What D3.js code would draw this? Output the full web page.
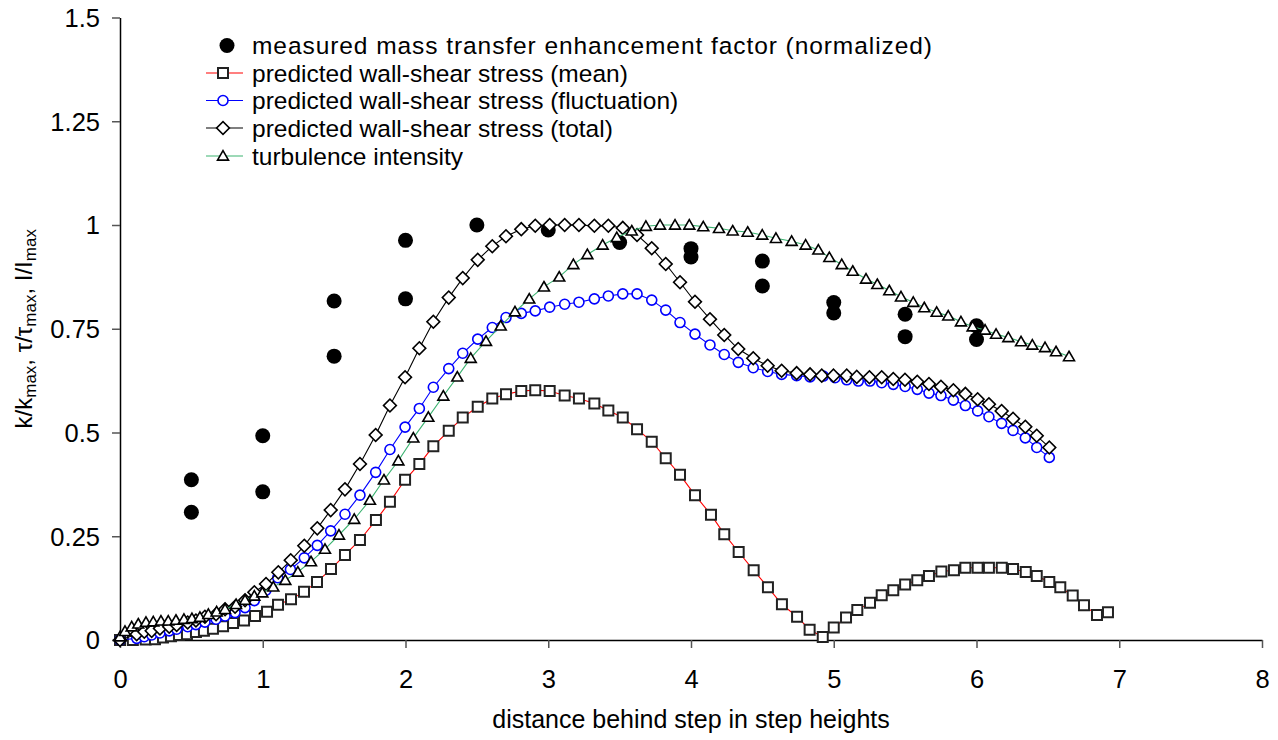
<!DOCTYPE html>
<html>
<head>
<meta charset="utf-8">
<script src="https://cdn.jsdelivr.net/npm/d3@7"></script>
<style>
  body { margin: 0; background: #fff; }
  svg { font-family: "Liberation Sans", Arial, sans-serif; }
</style>
</head>
<body>
<script>
// data, [x, y]
var measured = [[0.5,0.386],[0.5,0.308],[1,0.492],[1,0.357],[1.5,0.817],[1.5,0.684],[2,0.963],[2,0.822],
  [2.5,1.0],[3,0.988],[3.5,0.958],[4,0.943],[4,0.923],[4.5,0.913],[4.5,0.853],[5,0.813],[5,0.788],
  [5.5,0.785],[5.5,0.731],[6,0.757],[6,0.724]]

var meanShear = [[0,0],[0.09,0],[0.18,0.001],[0.245,0.002],[0.301,0.006],[0.357,0.009],[0.413,0.012],[0.469,0.014],
  [0.532,0.019],[0.588,0.022],[0.651,0.027],[0.722,0.033],[0.792,0.041],[0.869,0.047],[0.946,0.058],[1.03,0.068],
  [1.107,0.085],[1.198,0.098],[1.289,0.116],[1.38,0.140],[1.478,0.171],[1.576,0.205],[1.681,0.241],[1.793,0.289],
  [1.891,0.333],[1.997,0.386],[2.097,0.424],[2.195,0.467],[2.303,0.504],[2.401,0.536],[2.506,0.562],[2.608,0.582],
  [2.704,0.592],[2.811,0.600],[2.909,0.602],[3.010,0.600],[3.115,0.589],[3.215,0.582],[3.323,0.570],[3.421,0.553],
  [3.522,0.536],[3.622,0.508],[3.725,0.478],[3.823,0.438],[3.923,0.398],[4.028,0.349],[4.140,0.302],[4.233,0.255],
  [4.334,0.212],[4.439,0.168],[4.539,0.127],[4.637,0.086],[4.743,0.056],[4.831,0.025],[4.923,0.007],[5.0,0.030],
  [5.086,0.054],[5.165,0.072],[5.254,0.090],[5.336,0.108],[5.417,0.120],[5.50,0.134],[5.585,0.144],[5.667,0.154],
  [5.754,0.165],[5.842,0.168],[5.922,0.174],[6.008,0.174],[6.087,0.174],[6.177,0.174],[6.256,0.171],[6.345,0.164],
  [6.422,0.154],[6.51,0.140],[6.587,0.127],[6.674,0.107],[6.753,0.084],[6.844,0.060],[6.921,0.067]]

var fluctShear = [[0,0],[0.117,0.004],[0.17,0.008],[0.222,0.012],[0.28,0.017],[0.345,0.022],[0.397,0.026],
  [0.474,0.032],[0.532,0.037],[0.595,0.043],[0.673,0.050],[0.736,0.058],[0.806,0.066],[0.876,0.078],[0.941,0.095],
  [1.023,0.120],[1.105,0.150],[1.194,0.170],[1.291,0.198],[1.382,0.228],[1.476,0.263],[1.576,0.303],[1.681,0.349],
  [1.791,0.404],[1.891,0.459],[1.997,0.513],[2.097,0.558],[2.195,0.609],[2.303,0.654],[2.401,0.691],[2.506,0.725],
  [2.608,0.753],[2.704,0.777],[2.811,0.787],[2.909,0.793],[3.01,0.802],[3.115,0.809],[3.215,0.814],[3.323,0.822],
  [3.421,0.829],[3.522,0.834],[3.622,0.834],[3.725,0.819],[3.823,0.795],[3.923,0.765],[4.028,0.737],[4.133,0.711],
  [4.233,0.688],[4.331,0.669],[4.436,0.656],[4.537,0.647],[4.635,0.640],[4.740,0.637],[4.834,0.634],[4.927,0.636],
  [5.009,0.632],[5.091,0.627],[5.172,0.624],[5.254,0.624],[5.336,0.620],[5.417,0.616],[5.50,0.611],[5.585,0.604],
  [5.667,0.595],[5.751,0.589],[5.838,0.578],[5.922,0.565],[6.008,0.552],[6.087,0.538],[6.176,0.522],[6.256,0.505],
  [6.342,0.487],[6.422,0.464],[6.51,0.440]]

var totalShear = [[0,0],[0.117,0.014],[0.17,0.020],[0.222,0.022],[0.28,0.028],[0.345,0.032],[0.397,0.036],
  [0.474,0.042],[0.532,0.047],[0.595,0.056],[0.673,0.062],[0.736,0.074],[0.806,0.080],[0.876,0.096],[0.941,0.115],
  [1.023,0.135],[1.109,0.163],[1.196,0.192],[1.291,0.227],[1.382,0.269],[1.476,0.313],[1.576,0.363],[1.681,0.424],
  [1.791,0.494],[1.891,0.565],[1.997,0.633],[2.097,0.703],[2.195,0.767],[2.303,0.825],[2.401,0.872],[2.506,0.916],
  [2.608,0.949],[2.704,0.973],[2.811,0.990],[2.909,0.998],[3.010,1.0],[3.115,1.0],[3.215,1.0],[3.323,0.998],
  [3.421,0.998],[3.522,0.993],[3.622,0.976],[3.725,0.944],[3.823,0.906],[3.923,0.862],[4.028,0.815],[4.133,0.773],
  [4.233,0.735],[4.331,0.701],[4.436,0.679],[4.537,0.661],[4.635,0.649],[4.740,0.643],[4.834,0.640],[4.916,0.637],
  [4.998,0.637],[5.091,0.637],[5.161,0.634],[5.25,0.633],[5.336,0.633],[5.417,0.629],[5.499,0.627],[5.585,0.622],
  [5.667,0.617],[5.751,0.610],[5.838,0.602],[5.922,0.593],[6.008,0.580],[6.087,0.568],[6.176,0.552],[6.256,0.533],
  [6.342,0.514],[6.422,0.492],[6.51,0.464]]

var turbulence = [[0,0.008],[0.035,0.021],[0.082,0.032],[0.128,0.039],[0.182,0.043],[0.233,0.044],[0.287,0.046],
  [0.338,0.046],[0.392,0.048],[0.448,0.050],[0.504,0.052],[0.560,0.055],[0.619,0.062],[0.677,0.068],[0.736,0.074],
  [0.813,0.086],[0.876,0.096],[0.941,0.106],[0.997,0.114],[1.074,0.128],[1.158,0.144],[1.246,0.164],[1.338,0.189],
  [1.436,0.219],[1.534,0.253],[1.641,0.291],[1.751,0.337],[1.849,0.386],[1.950,0.432],[2.055,0.487],[2.160,0.537],
  [2.265,0.588],[2.363,0.634],[2.457,0.679],[2.564,0.720],[2.667,0.757],[2.767,0.791],[2.867,0.822],[2.970,0.851],
  [3.077,0.875],[3.176,0.905],[3.274,0.929],[3.381,0.952],[3.480,0.970],[3.585,0.986],[3.684,0.997],[3.783,1.0],
  [3.888,1.0],[3.988,1.0],[4.086,0.996],[4.196,0.992],[4.292,0.986],[4.397,0.983],[4.499,0.976],[4.595,0.968],
  [4.705,0.961],[4.803,0.952],[4.892,0.940],[4.969,0.922],[5.056,0.905],[5.133,0.889],[5.226,0.870],[5.305,0.857],
  [5.389,0.842],[5.471,0.827],[5.557,0.814],[5.634,0.801],[5.721,0.790],[5.802,0.781],[5.891,0.767],[5.973,0.755],
  [6.060,0.747],[6.137,0.737],[6.223,0.729],[6.312,0.719],[6.391,0.711],[6.480,0.705],[6.557,0.695],[6.648,0.683]]

var xTicks = [0, 1, 2, 3, 4, 5, 6, 7, 8]
var yTicks = [0, 0.25, 0.5, 0.75, 1, 1.25, 1.5]
var yTickLabels = ['0', '0.25', '0.5', '0.75', '1', '1.25', '1.5']
var legendLabels = ['measured mass transfer enhancement factor (normalized)',
  'predicted wall-shear stress (mean)',
  'predicted wall-shear stress (fluctuation)',
  'predicted wall-shear stress (total)',
  'turbulence intensity']

var W = 1278, H = 740
var margin = {left: 120, right: 16, top: 17.5, bottom: 100}

var svg = d3.select('body').append('svg')
    .attr('width', W)
    .attr('height', H)

var x = d3.scaleLinear().domain([0, 8]).range([margin.left, W - margin.right])
var y = d3.scaleLinear().domain([0, 1.5]).range([H - margin.bottom, margin.top])

// axes
var xAxis = svg.append('g')
    .attr('transform', `translate(0, ${y(0)})`)
    .call(d3.axisBottom(x).tickValues(xTicks).tickSize(8).tickSizeOuter(0).tickPadding(22))
var yAxis = svg.append('g')
    .attr('transform', `translate(${x(0)}, 0)`)
    .call(d3.axisLeft(y).tickValues(yTicks).tickSize(8).tickSizeOuter(0).tickPadding(12)
      .tickFormat((d, i) => yTickLabels[i]))

svg.selectAll('.domain').attr('stroke', '#000').attr('stroke-width', 1.5)
svg.selectAll('.tick line').attr('stroke', '#555').attr('stroke-width', 1.5)
svg.selectAll('.tick text').attr('font-size', '25.5px').attr('fill', '#000')
  .attr('font-family', '"Liberation Sans", Arial, sans-serif')
xAxis.selectAll('.tick text').attr('dy', '0.71em')
yAxis.selectAll('.tick text').attr('dy', '0.35em')

// axis titles
svg.append('text')
    .attr('x', (x(0) + x(8)) / 2)
    .attr('y', 728)
    .attr('text-anchor', 'middle')
    .attr('font-size', '25px')
    .text('distance behind step in step heights')

var yTitle = svg.append('text')
    .attr('transform', `translate(32, ${(y(0) + y(1.5)) / 2}) rotate(-90)`)
    .attr('text-anchor', 'middle')
    .attr('font-size', '24px')
var parts = [['k/k', false], ['max', true], [', τ/τ', false], ['max', true], [', I/I', false], ['max', true]]
parts.forEach(function(p, i) {
  var t = yTitle.append('tspan').text(p[0])
  if (p[1]) t.attr('font-size', '17px').attr('dy', 4)
  else if (i > 0) t.attr('dy', -4)
})

// marker shapes
var sq = d3.symbol().type(d3.symbolSquare).size(100)()
var dia = d3.symbol().type(d3.symbolSquare).size(82)()
var tri = d3.symbol().type(d3.symbolTriangle).size(52)()

var series = [
  {data: meanShear, color: '#ff0000', shape: 'square'},
  {data: fluctShear, color: '#0000ff', shape: 'circle'},
  {data: totalShear, color: '#000000', shape: 'diamond'},
  {data: turbulence, color: '#3cb371', shape: 'triangle'}
]

var line = d3.line().x(d => x(d[0])).y(d => y(d[1]))

function drawMarker(g, shape, color) {
  if (shape === 'circle') {
    g.append('circle').attr('r', 5).attr('fill', '#fff').attr('stroke', color).attr('stroke-width', 1.6)
  } else if (shape === 'square') {
    g.append('path').attr('d', sq).attr('fill', '#fff').attr('stroke', '#222').attr('stroke-width', 2)
  } else if (shape === 'diamond') {
    g.append('path').attr('d', dia).attr('transform', 'rotate(45)').attr('fill', '#fff').attr('stroke', '#000').attr('stroke-width', 1.6)
  } else {
    g.append('path').attr('d', tri).attr('transform', 'translate(0,1)').attr('fill', '#fff').attr('stroke', '#000').attr('stroke-width', 1.6)
  }
}

// measured points underneath
svg.append('g').selectAll('circle')
  .data(measured)
  .join('circle')
    .attr('cx', d => x(d[0]))
    .attr('cy', d => y(d[1]))
    .attr('r', 7.5)
    .attr('fill', '#000')

series.forEach(function(s) {
  var g = svg.append('g')
  g.append('path')
    .attr('d', line(s.data))
    .attr('fill', 'none')
    .attr('stroke', s.color)
    .attr('stroke-width', 1.1)
  g.selectAll('g.m')
    .data(s.data)
    .join('g')
      .attr('class', 'm')
      .attr('transform', d => `translate(${x(d[0])}, ${y(d[1])})`)
      .each(function() { drawMarker(d3.select(this), s.shape, s.color) })
})

// legend
var legend = svg.append('g')
var rowY = [45.5, 73, 100.5, 128, 156]
legendLabels.forEach(function(label, i) {
  var row = legend.append('g').attr('transform', `translate(0, ${rowY[i]})`)
  if (i === 0) {
    row.append('circle').attr('cx', 227).attr('r', 7.5).attr('fill', '#000')
  } else {
    var s = series[i - 1]
    row.append('line').attr('x1', 206).attr('x2', 243).attr('stroke', s.color).attr('stroke-width', 1.1)
    var m = row.append('g').attr('transform', 'translate(223, 0)')
    drawMarker(m, s.shape, s.color)
  }
  var t = row.append('text')
    .attr('x', 252)
    .attr('dy', '0.35em')
    .attr('font-size', '24.5px')
    .text(label)
  // first row is a little wider in the reference
  if (i === 0) t.attr('textLength', 680).attr('lengthAdjust', 'spacing')
})
</script>
</body>
</html>
